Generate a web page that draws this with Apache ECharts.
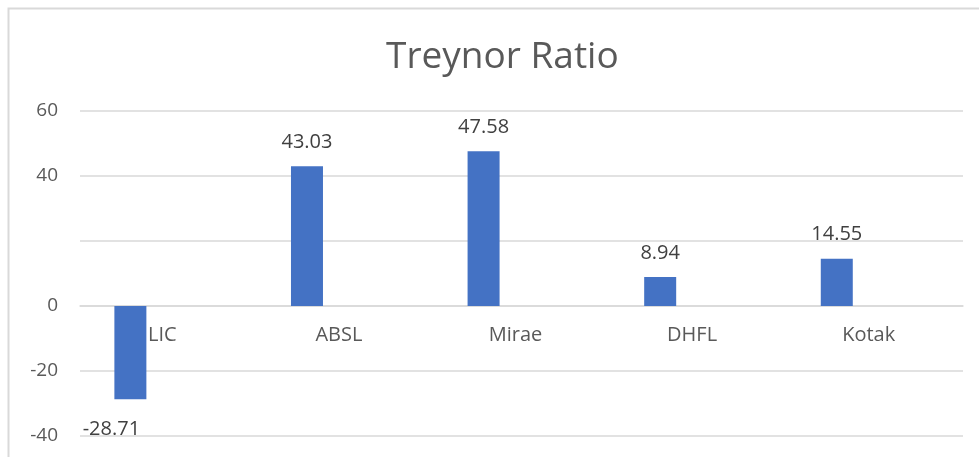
<!DOCTYPE html>
<html>
<head>
<meta charset="utf-8">
<script src="https://cdn.jsdelivr.net/npm/echarts@6/dist/echarts.min.js"></script>
<style>
  html, body { margin: 0; padding: 0; background: #fff; }
  #chart { width: 979px; height: 457px; }
</style>
</head>
<body>
<div id="chart"></div>
<script>
// 数据
const funds = ['LIC', 'ABSL', 'Mirae', 'DHFL', 'Kotak']
const treynor = [-28.71, 43.03, 47.58, 8.94, 14.55]
const emptySeries = [null, null, null, null, null]

const chart = echarts.init(document.getElementById('chart'))
const font = "'Open Sans', 'Noto Sans', sans-serif"

const option = {
  animation: false,
  title: {
    text: 'Treynor Ratio',
    left: 381,
    top: 34,
    textStyle: { fontFamily: font, fontSize: 37, fontWeight: 'normal', color: '#595959' }
  },
  graphic: [
    {
      type: 'rect',
      shape: { x: 8.5, y: 8.5, width: 1000, height: 500 },
      style: { fill: 'none', stroke: '#d9d9d9', lineWidth: 2 },
      silent: true
    }
  ],
  grid: { left: 80, right: 16, top: 111, height: 325, outerBoundsMode: 'none' },
  xAxis: {
    type: 'category',
    data: funds,
    position: 'bottom',
    // 横轴放在 0 的位置
    offset: -130,
    axisLine: { onZero: false, lineStyle: { color: '#d9d9d9', width: 1.5 } },
    axisTick: { show: false },
    axisLabel: { margin: 19, padding: [0, 12, 0, 0], fontFamily: font, fontSize: 20, color: '#595959' }
  },
  yAxis: {
    type: 'value',
    min: -40,
    max: 60,
    interval: 20,
    axisLine: { show: false },
    axisTick: { show: false },
    splitLine: { lineStyle: { color: '#d9d9d9', width: 1.5 } },
    axisLabel: {
      margin: 22,
      fontFamily: font,
      fontSize: 19,
      color: '#595959',
      formatter: function (value) {
        return value === 20 ? '' : value
      }
    }
  },
  series: [
    {
      type: 'bar',
      barWidth: 32,
      barGap: '137%',
      itemStyle: { color: '#4472c4' },
      label: {
        show: true,
        fontFamily: font,
        fontSize: 20,
        color: '#404040',
        distance: 14
      },
      data: treynor.map(v => ({
        value: v,
        label: v < 0 ? { position: 'bottom', distance: 20, offset: [-19, 0] } : { position: 'top' }
      }))
    },
    {
      type: 'bar',
      barWidth: 32,
      data: emptySeries
    }
  ]
}
chart.setOption(option)
window.addEventListener('resize', chart.resize)
</script>
</body>
</html>
